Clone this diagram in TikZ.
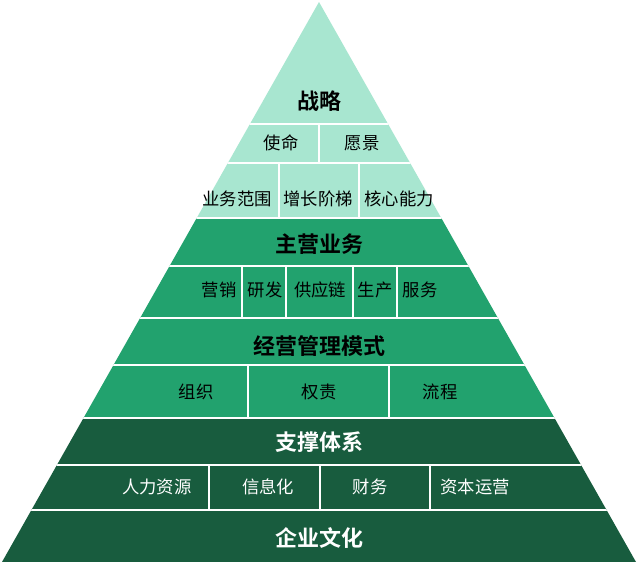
\documentclass[tikz,border=0pt]{standalone}
\usepackage{fontspec}
\newfontfamily\cjk{Noto Sans CJK SC}
\newfontfamily\cjkb{Noto Sans CJK SC Bold}
\definecolor{lightg}{HTML}{A8E6D0}
\definecolor{midg}{HTML}{22A26E}
\definecolor{darkg}{HTML}{185C3E}
\begin{document}
\begin{tikzpicture}[x=0.75pt,y=-0.75pt,
  sep/.style={white,line width=1.8pt},
  lbl/.style={font=\cjk\fontsize{13}{14}\selectfont,inner sep=0pt},
  lblw/.style={lbl,text=white},
  ttl/.style={font=\cjkb\fontsize{16.5}{17}\selectfont,inner sep=0pt},
  ttlw/.style={ttl,text=white}]
\useasboundingbox[fill=white] (0,0) rectangle (640,571);
\begin{scope}
\clip (319,2) -- (636,562) -- (2,562) -- cycle;
\fill[lightg] (0,0) rectangle (640,218);
\fill[midg] (0,218) rectangle (640,418);
\fill[darkg] (0,418) rectangle (640,562);
\foreach \y in {124,163,218,266,318,365,418,465,510}
  \draw[sep] (0,\y) -- (640,\y);
\draw[sep] (319,124) -- (319,163);
\foreach \x in {279,359} \draw[sep] (\x,163) -- (\x,218);
\foreach \x in {242,286,353,397} \draw[sep] (\x,266) -- (\x,318);
\foreach \x in {248,389} \draw[sep] (\x,365) -- (\x,418);
\foreach \x in {209,320,430} \draw[sep] (\x,465) -- (\x,510);
\end{scope}
\node[ttl] (t1) at (319,101) {战略};
\node[lbl] (a1) at (281,143) {使命};
\node[lbl] (a2) at (362,143) {愿景};
\node[lbl] (b1) at (237,199) {业务范围};
\node[lbl] (b2) at (318,199) {增长阶梯};
\node[lbl] (b3) at (399,199) {核心能力};
\node[ttl] (t2) at (319,244) {主营业务};
\node[lbl] (c1) at (219,290) {营销};
\node[lbl] (c2) at (265,290) {研发};
\node[lbl] (c3) at (320,290) {供应链};
\node[lbl] (c4) at (375,290) {生产};
\node[lbl] (c5) at (420,290) {服务};
\node[ttl] (t3) at (319,346) {经营管理模式};
\node[lbl] (d1) at (196,392) {组织};
\node[lbl] (d2) at (319,392) {权责};
\node[lbl] (d3) at (440,392) {流程};
\node[ttlw] (t4) at (319,442) {支撑体系};
\node[lblw] (e1) at (157,487) {人力资源};
\node[lblw] (e2) at (268,487) {信息化};
\node[lblw] (e3) at (370,487) {财务};
\node[lblw] (e4) at (475,487) {资本运营};
\node[ttlw] (t5) at (319,538) {企业文化};
\end{tikzpicture}
\end{document}
